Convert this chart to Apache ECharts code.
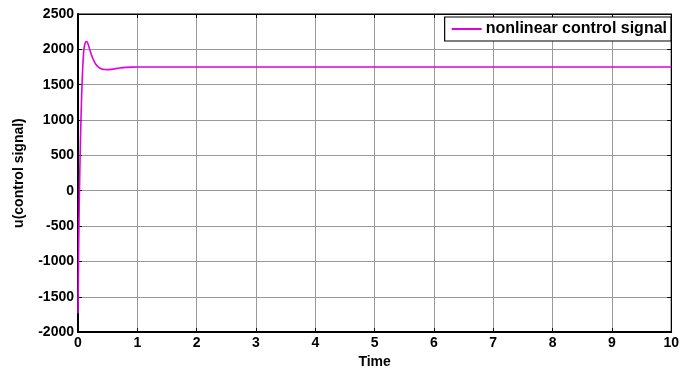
<!DOCTYPE html>
<html>
<head>
<meta charset="utf-8">
<script src="https://cdn.jsdelivr.net/npm/echarts@6/dist/echarts.min.js"></script>
<style>html,body{margin:0;padding:0;background:#fff;}#c{width:682px;height:374px;}</style>
</head>
<body>
<div id="c"></div>
<script>
var timeValues = [0, 0.005, 0.01, 0.015, 0.02, 0.03, 0.04, 0.05, 0.06, 0.07, 0.08, 0.09, 0.10, 0.12, 0.14, 0.16, 0.18, 0.20, 0.25, 0.30, 0.35, 0.40, 0.45, 0.50, 0.55, 0.60, 0.70, 0.80, 0.90, 1.0, 2, 3, 4, 5, 6, 7, 8, 9, 10];
var controlValues = [-1735, -1300, -900, -550, -250, 250, 650, 1000, 1300, 1550, 1750, 1900, 2000, 2085, 2110, 2095, 2050, 1990, 1870, 1790, 1745, 1722, 1714, 1713, 1716, 1722, 1735, 1745, 1749, 1750, 1750, 1750, 1750, 1750, 1750, 1750, 1750, 1750, 1750];
var seriesName = 'nonlinear control signal';
var xTitle = 'Time';
var yTitle = 'u(control signal)';

var pts = timeValues.map(function(t, i){ return [t, controlValues[i]]; });
var font = 'Liberation Sans, Arial, sans-serif';
var plain = function(v){ return String(v); };
var chart = echarts.init(document.getElementById('c'), null, {renderer:'canvas'});
chart.setOption({
  animation: false,
  backgroundColor: '#fff',
  grid: {left: 78, right: 8, top: 14, bottom: 32, show: true, borderColor: '#000', borderWidth: 1},
  legend: {
    show: true, right: 11, top: 17, orient: 'horizontal',
    backgroundColor: '#fff', borderColor: '#000', borderWidth: 1.2, borderRadius: 0,
    padding: [4, 4, 4, 7], itemWidth: 30, itemHeight: 2, itemGap: 4,
    textStyle: {fontFamily: font, fontWeight: 'bold', fontSize: 16, color: '#000', padding: [0,0,0,-1]},
    data: [{name: seriesName, icon: 'rect'}]
  },
  xAxis: [{
    type: 'value', min: 0, max: 10, interval: 1,
    name: xTitle, nameLocation: 'middle', nameGap: 21,
    nameTextStyle: {fontFamily: font, fontWeight: 'bold', fontSize: 14, color: '#000'},
    axisLine: {show: true, onZero: false, lineStyle: {color: '#000', width: 2}},
    axisTick: {show: true, inside: true, length: 4, lineStyle: {color: '#000'}},
    axisLabel: {fontFamily: font, fontWeight: 'bold', fontSize: 14, color: '#000', margin: 4, formatter: plain},
    splitLine: {show: true, lineStyle: {color: '#9a9a9a', width: 1}}
  }, {
    type: 'value', min: 0, max: 10, interval: 1, position: 'top',
    axisLine: {show: true, onZero: false, lineStyle: {color: '#000', width: 1}},
    axisTick: {show: true, inside: true, length: 4, lineStyle: {color: '#000'}},
    axisLabel: {show: false}, splitLine: {show: false}
  }],
  yAxis: [{
    type: 'value', min: -2000, max: 2500, interval: 500,
    name: yTitle, nameLocation: 'middle', nameGap: 52, nameRotate: 90,
    nameTextStyle: {fontFamily: font, fontWeight: 'bold', fontSize: 14, color: '#000'},
    axisLine: {show: true, onZero: false, lineStyle: {color: '#000', width: 2}},
    axisTick: {show: true, inside: true, length: 4, lineStyle: {color: '#000'}},
    axisLabel: {fontFamily: font, fontWeight: 'bold', fontSize: 14, color: '#000', margin: 4, formatter: plain},
    splitLine: {show: true, lineStyle: {color: '#9a9a9a', width: 1}}
  }, {
    type: 'value', min: -2000, max: 2500, interval: 500, position: 'right',
    axisLine: {show: true, onZero: false, lineStyle: {color: '#000', width: 1}},
    axisTick: {show: true, inside: true, length: 4, lineStyle: {color: '#000'}},
    axisLabel: {show: false}, splitLine: {show: false}
  }],
  series: [{
    name: seriesName, type: 'line', data: pts, showSymbol: false, smooth: 0.3,
    lineStyle: {color: '#e000e0', width: 1.6}, itemStyle: {color: '#e000e0'}
  }]
});
</script>
</body>
</html>
